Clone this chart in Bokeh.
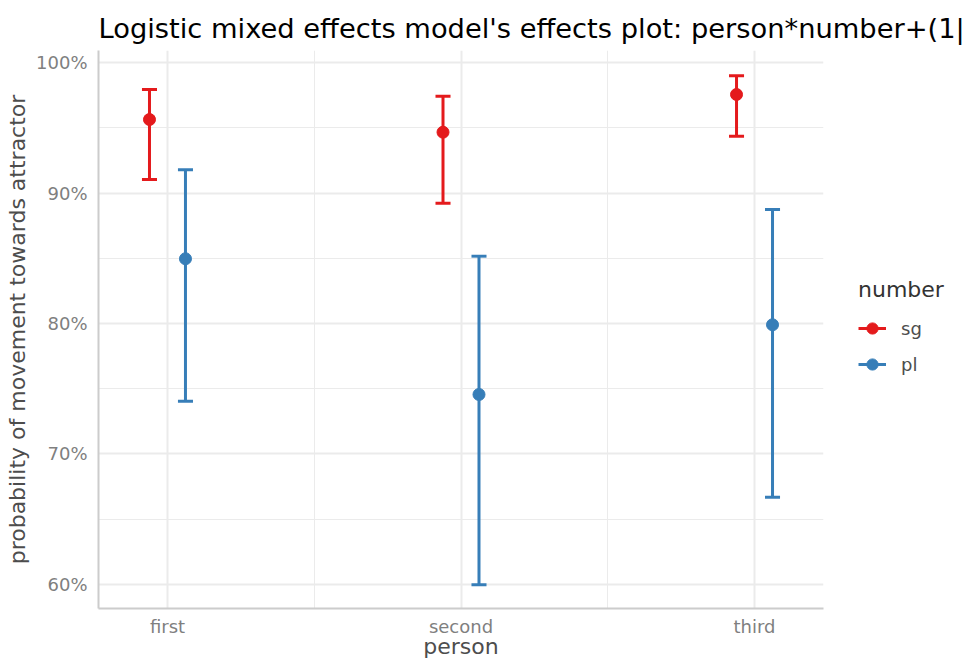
from bokeh.plotting import figure
from bokeh.layouts import row, column
from bokeh.models import (FactorRange, Range1d, FixedTicker, NumeralTickFormatter,
                          ColumnDataSource, Legend, LegendItem)
from bokeh.transform import dodge
from bokeh.embed import file_html
from bokeh.resources import INLINE

# ---- data ----
persons = ["first", "second", "third"]
numbers = ["sg", "pl"]
sg_fit = [0.9563, 0.9466, 0.9755]
sg_lower = [0.9103, 0.8922, 0.9435]
sg_upper = [0.9793, 0.9742, 0.9898]
pl_fit = [0.8496, 0.7456, 0.7990]
pl_lower = [0.7404, 0.5998, 0.6669]
pl_upper = [0.9178, 0.8516, 0.8874]
y_ticks = [0.6, 0.7, 0.8, 0.9, 1.0]
y_minor = [0.65, 0.75, 0.85, 0.95]
title_text = "Logistic mixed effects model's effects plot: person*number+(1|"

colors = {"sg": "#e41a1c", "pl": "#377eb8"}
offsets = {"sg": -0.0613, "pl": 0.0613}
cap = 0.0256
series = {
    "sg": (sg_fit, sg_lower, sg_upper),
    "pl": (pl_fit, pl_lower, pl_upper),
}

FONT = "DejaVu Sans"

# ---- title strip ----
tf = figure(width=970, height=50, output_backend="svg", toolbar_location=None,
            x_axis_location=None, y_axis_location=None,
            x_range=Range1d(0, 1), y_range=Range1d(0, 1),
            min_border_left=98, min_border_right=0, min_border_top=46,
            min_border_bottom=0, title=title_text)
tf.outline_line_color = None
tf.grid.visible = False
tf.background_fill_color = "white"
tf.border_fill_color = "white"
tf.title.text_font = FONT
tf.title.text_font_size = "27.3px"
tf.title.text_font_style = "normal"
tf.title.text_color = "#000000"
tf.title.align = "left"
tf.title.standoff = 6

# ---- main plot ----
p = figure(width=825, height=612, output_backend="svg", toolbar_location=None,
           x_range=FactorRange(factors=persons, range_padding=-0.265,
                               range_padding_units="absolute"),
           y_range=Range1d(0.5816, 1.0092),
           min_border_left=98, min_border_right=2, min_border_top=0,
           min_border_bottom=54)

p.outline_line_color = None
p.background_fill_color = "white"
p.border_fill_color = "white"

for ax in (p.xaxis[0], p.yaxis[0]):
    ax.axis_line_color = "#cccccc"
    ax.axis_line_width = 2
    ax.major_tick_line_color = None
    ax.minor_tick_line_color = None
    ax.major_tick_out = 0
    ax.major_tick_in = 0
    ax.minor_tick_out = 0
    ax.minor_tick_in = 0
    ax.major_label_text_font = FONT
    ax.major_label_text_font_size = "18px"
    ax.major_label_text_color = "#7f7f7f"
    ax.axis_label_text_font = FONT
    ax.axis_label_text_font_size = "22px"
    ax.axis_label_text_font_style = "normal"
    ax.axis_label_text_color = "#4d4d4d"

p.xaxis.axis_label = "person"
p.yaxis.axis_label = "probability of movement towards attractor"
p.xaxis.major_label_standoff = 7
p.xaxis.axis_label_standoff = -6
p.yaxis.major_label_standoff = 11
p.yaxis.axis_label_standoff = 3
p.yaxis.ticker = FixedTicker(ticks=y_ticks, minor_ticks=y_minor)
p.yaxis.formatter = NumeralTickFormatter(format="0%")

p.ygrid.grid_line_color = "#ebebeb"
p.ygrid.grid_line_width = 2
p.ygrid.minor_grid_line_color = "#ebebeb"
p.ygrid.minor_grid_line_width = 1
p.xgrid.ticker = FixedTicker(ticks=[0.5, 1.5, 2.5], minor_ticks=[1.0, 2.0])
p.xgrid.grid_line_color = "#ebebeb"
p.xgrid.grid_line_width = 2
p.xgrid.minor_grid_line_color = "#ebebeb"
p.xgrid.minor_grid_line_width = 1

sources = {}
for num in numbers:
    fit, lo, hi = series[num]
    src = ColumnDataSource(dict(person=persons, fit=fit, lower=lo, upper=hi))
    sources[num] = src
    off = offsets[num]
    c = colors[num]
    p.segment(x0=dodge("person", off, range=p.x_range), y0="lower",
              x1=dodge("person", off, range=p.x_range), y1="upper",
              source=src, line_color=c, line_width=3)
    p.segment(x0=dodge("person", off - cap, range=p.x_range), y0="upper",
              x1=dodge("person", off + cap, range=p.x_range), y1="upper",
              source=src, line_color=c, line_width=3)
    p.segment(x0=dodge("person", off - cap, range=p.x_range), y0="lower",
              x1=dodge("person", off + cap, range=p.x_range), y1="lower",
              source=src, line_color=c, line_width=3)
    p.scatter(x=dodge("person", off, range=p.x_range), y="fit", source=src,
              size=12, fill_color=c, line_color=c)

# ---- legend strip (glyph swatches come from renderers kept out of view) ----
lf = figure(width=145, height=612, output_backend="svg", toolbar_location=None,
            x_axis_location=None, y_axis_location=None,
            x_range=FactorRange(factors=persons), y_range=Range1d(10, 11),
            min_border_left=0, min_border_right=0,
            min_border_top=0, min_border_bottom=54)
lf.outline_line_color = None
lf.grid.visible = False
lf.background_fill_color = "white"
lf.border_fill_color = "white"

items = []
for num in numbers:
    c = colors[num]
    src = sources[num]
    seg = lf.segment(x0="person", y0="lower", x1="person", y1="upper", source=src,
                     line_color=c, line_width=3)
    pts = lf.scatter(x="person", y="fit", source=src, size=12,
                     fill_color=c, line_color=c)
    items.append(LegendItem(label=num, renderers=[seg, pts]))

legend = Legend(items=items, location=(33, 230), title="number",
                title_text_font=FONT, title_text_font_size="22px",
                title_text_font_style="normal", title_text_color="#333333",
                title_standoff=12,
                label_text_font=FONT, label_text_font_size="18px",
                label_text_color="#4d4d4d",
                glyph_width=28, glyph_height=28, label_height=28,
                label_standoff=15, spacing=8, padding=0, margin=0,
                border_line_color=None, background_fill_alpha=0)
lf.add_layout(legend, "center")

layout = column(tf, row(p, lf))
open("out.html", "w").write(file_html(layout, INLINE))
